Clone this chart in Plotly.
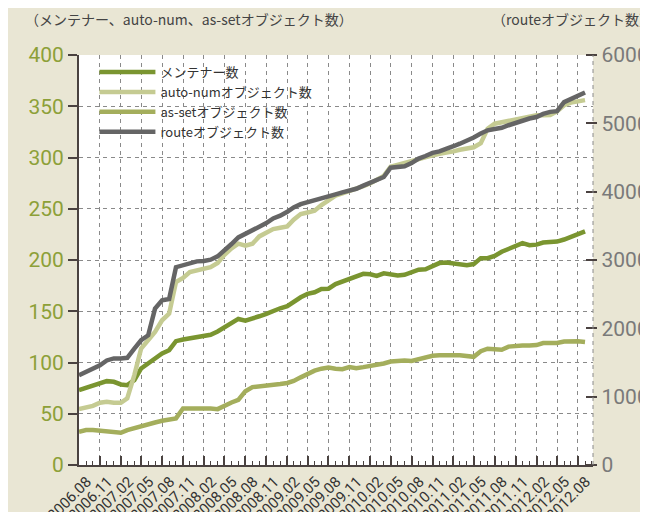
import pandas as pd
import plotly.graph_objects as go

# monthly data, 2006.08 .. 2012.09
months = pd.date_range("2006-08-01", periods=74, freq="MS")

maintainers = [
    73.0, 75.3, 77.9, 80.2, 81.8, 81.2, 78.6, 77.9, 82.8, 94.2,
    99.0, 103.9, 108.8, 112.0, 120.8, 122.4, 123.4, 125.0, 126.0, 127.0,
    130.2, 134.4, 138.6, 142.5, 140.9, 142.5, 145.1, 147.4, 150.6, 152.9,
    154.9, 159.4, 163.6, 166.9, 168.5, 171.7, 172.0, 176.5, 179.0, 181.5,
    184.5, 186.5, 186.0, 184.5, 187.0, 185.5, 185.0, 185.5, 188.0, 190.5,
    191.0, 194.5, 197.0, 197.5, 196.5, 196.0, 195.0, 196.0, 201.8, 201.8,
    204.0, 208.0, 210.5, 213.0, 216.5, 214.5, 215.0, 217.0, 217.5, 218.0,
    220.0, 222.3, 225.0, 228.0,
]

auto_num = [
    54.5, 56.1, 57.7, 60.7, 61.7, 60.7, 60.7, 65.0, 87.7, 113.6,
    121.7, 129.9, 141.2, 147.7, 178.6, 182.5, 188.3, 190.0, 192.0, 193.0,
    197.0, 205.0, 211.4, 215.9, 214.0, 215.9, 223.0, 227.0, 230.2, 231.5,
    232.8, 239.3, 244.8, 246.4, 248.0, 253.6, 258.4, 262.7, 265.0, 267.0,
    269.0, 272.0, 275.0, 278.0, 282.0, 291.0, 293.0, 294.0, 296.0, 298.0,
    300.5, 302.0, 303.5, 304.5, 306.0, 307.5, 308.5, 310.0, 314.0, 328.0,
    333.0, 334.5, 336.3, 337.5, 339.0, 340.5, 341.2, 341.2, 341.5, 345.0,
    351.0, 353.5, 355.0, 356.0,
]

as_set = [
    32.5, 34.1, 34.1, 33.4, 32.5, 31.8, 31.5, 34.1, 35.7, 37.3,
    39.6, 41.5, 43.2, 44.8, 45.5, 55.2, 55.2, 55.2, 55.8, 55.0,
    54.5, 58.0, 61.0, 63.5, 72.0, 76.0, 76.5, 77.0, 78.0, 79.0,
    80.0, 82.0, 85.5, 89.0, 92.0, 94.0, 95.0, 94.0, 93.5, 95.5,
    94.5, 95.5, 96.5, 97.5, 99.0, 101.0, 102.0, 102.0, 101.5, 103.0,
    105.5, 106.5, 107.0, 106.5, 107.0, 107.0, 106.5, 105.5, 111.0, 113.5,
    113.0, 112.5, 115.5, 116.5, 116.5, 116.5, 117.0, 119.0, 119.0, 119.0,
    120.5, 120.7, 120.7, 120.0,
]

route = [
    1315, 1365, 1395, 1460, 1530, 1560, 1560, 1568, 1704, 1826,
    1899, 2289, 2410, 2430, 2895, 2922, 2955, 2980, 2985, 3005,
    3054, 3135, 3234, 3330, 3380, 3429, 3477, 3540, 3609, 3648,
    3705, 3770, 3818, 3843, 3882, 3910, 3930, 3960, 3990, 4012,
    4042, 4088, 4132, 4162, 4215, 4350, 4365, 4372, 4418, 4485,
    4522, 4568, 4590, 4635, 4665, 4702, 4740, 4792, 4850, 4898,
    4917, 4935, 4972, 5010, 5040, 5070, 5092, 5138, 5168, 5178,
    5310, 5362, 5400, 5451,
]

names = ["メンテナー数", "auto-numオブジェクト数", "as-setオブジェクト数", "routeオブジェクト数"]
colors = ["#7A9530", "#C5CB92", "#A4AE5C", "#656565"]

BG = "#E9E6D4"
AXIS = "#4A4240"
GRID = "#8A8A8A"
FONT = "Roboto"
JP = "Noto Sans CJK JP"

fig = go.Figure()
for name, ys, col in zip(names[:3], [maintainers, auto_num, as_set], colors[:3]):
    fig.add_trace(go.Scatter(x=months, y=ys, mode="lines", name=name,
                             line=dict(color=col, width=4.5)))
fig.add_trace(go.Scatter(x=months, y=route, mode="lines", name=names[3], yaxis="y2",
                         line=dict(color=colors[3], width=4.5)))

fig.update_layout(
    width=648, height=512,
    paper_bgcolor=BG, plot_bgcolor="white",
    margin=dict(l=71, r=63, t=47, b=55),
    showlegend=True,
    legend=dict(x=0.03, y=0.995, xanchor="left", yanchor="top",
                bgcolor="rgba(0,0,0,0)", itemwidth=56,
                font=dict(family=JP, size=13, color="#333333"),
                tracegroupgap=0),
    xaxis=dict(
        type="date",
        range=["2006-08-01", "2012-10-06"],
        tick0="2006-08-01", dtick="M3", tickformat="%Y.%m",
        tickangle=-45, automargin=False, ticklabelshift=8,
        tickfont=dict(family=FONT, size=15, color="#333333"),
        ticks="inside", ticklen=9, tickwidth=1.5, tickcolor=AXIS,
        showline=True, linecolor=AXIS, linewidth=2,
        showgrid=True, gridcolor=GRID, griddash="4px,4px", gridwidth=1,
        minor=dict(dtick="M1", ticks="inside", ticklen=4, tickcolor=AXIS, tickwidth=1.2, showgrid=False),
        zeroline=False,
    ),
    yaxis=dict(
        range=[0, 400], dtick=50, automargin=False,
        tickfont=dict(family=FONT, size=21, color="#8DA038"),
        ticks="outside", ticklen=9, tickwidth=1.5, tickcolor=AXIS,
        showline=True, linecolor=AXIS, linewidth=2,
        showgrid=True, gridcolor=GRID, griddash="4px,4px", gridwidth=1,
        zeroline=False,
    ),
    yaxis2=dict(
        range=[0, 6000], dtick=1000, overlaying="y", side="right",
        anchor="free", position=0.985, automargin=False,
        tickfont=dict(family=FONT, size=21, color="#7A7A7A"),
        ticks="outside", ticklen=11, tickwidth=1.5, tickcolor=AXIS,
        showline=False, showgrid=False, zeroline=False,
    ),
)

# dashed frame on the right edge of the plot area
fig.add_shape(type="line", xref="paper", yref="paper", x0=1, x1=1, y0=0, y1=1,
              line=dict(color=GRID, width=1, dash="4px,4px"))

fig.add_annotation(text="（メンテナー、auto-num、as-setオブジェクト数）",
                   xref="paper", yref="paper", x=-0.108, y=1.087,
                   xanchor="left", yanchor="middle", showarrow=False,
                   font=dict(family=JP, size=14, color="#444444"))
fig.add_annotation(text="（routeオブジェクト数）",
                   xref="paper", yref="paper", x=0.80, y=1.087,
                   xanchor="left", yanchor="middle", showarrow=False,
                   font=dict(family=JP, size=14, color="#444444"))

fig.write_html("out.html")
